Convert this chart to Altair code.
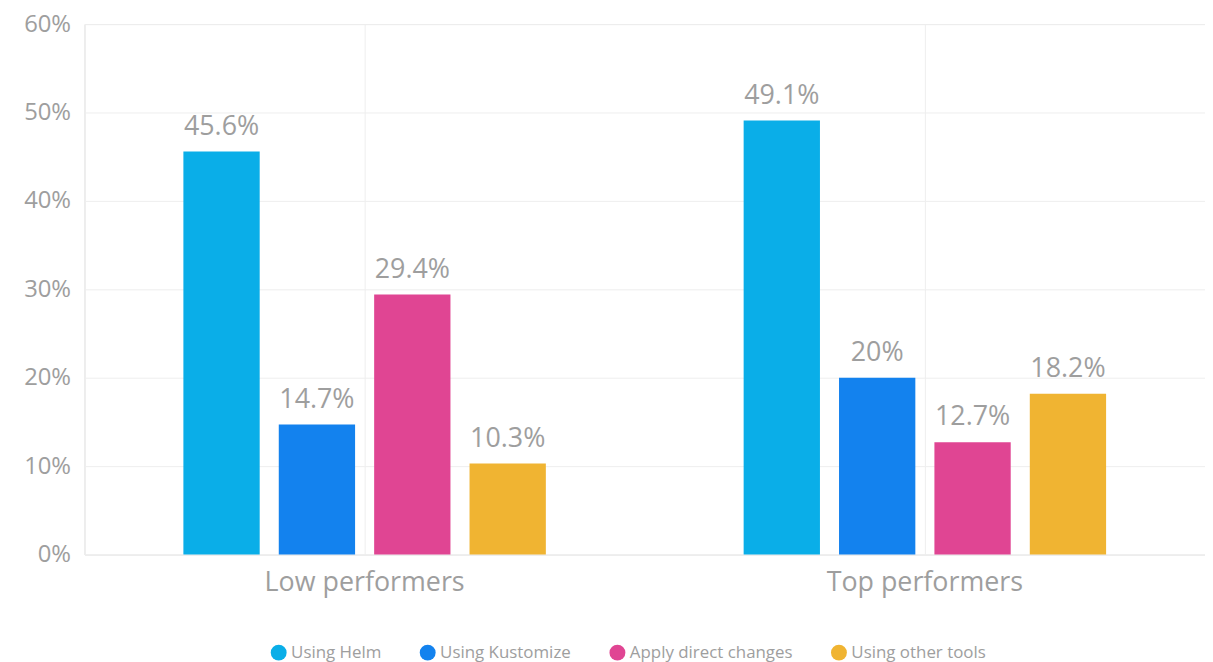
import altair as alt
import pandas as pd

groups = ["Low performers", "Top performers"]
series = ["Using Helm", "Using Kustomize", "Apply direct changes", "Using other tools"]
colors = ["#0AAEE8", "#1382EE", "#E04593", "#F0B432"]
low_values = [0.456, 0.147, 0.294, 0.103]
top_values = [0.491, 0.200, 0.127, 0.182]

rows = []
for s, v in zip(series, low_values):
    rows.append({"group": groups[0], "series": s, "value": v})
for s, v in zip(series, top_values):
    rows.append({"group": groups[1], "series": s, "value": v})
df = pd.DataFrame(rows)

FONT = "Open Sans"
GRAY = "#9e9e9e"

x = alt.X("group:N", sort=groups, title=None,
          scale=alt.Scale(paddingInner=0.319, paddingOuter=0.1595),
          axis=alt.Axis(labelAngle=0, labelFontSize=27, labelColor=GRAY, labelFont=FONT,
                        labelPadding=15, labelLimit=0, ticks=False, domain=True, domainColor="#eeeeee",
                        grid=True, gridColor="#eeeeee", bandPosition=0.5))
xo = alt.XOffset("series:N", sort=series,
                 scale=alt.Scale(paddingInner=0.2, paddingOuter=0.1))
y = alt.Y("value:Q", title=None,
          scale=alt.Scale(domain=[0, 0.6], nice=False),
          axis=alt.Axis(format=".0%", values=[0, 0.1, 0.2, 0.3, 0.4, 0.5, 0.6],
                        labelFontSize=24, labelColor=GRAY, labelFont=FONT, labelPadding=14,
                        ticks=False, domain=True, domainColor="#eeeeee",
                        grid=True, gridColor="#eeeeee"))
color = alt.Color("series:N", sort=series,
                  scale=alt.Scale(domain=series, range=colors),
                  legend=alt.Legend(title=None, orient="none", direction="horizontal",
                                    legendX=187, legendY=624,
                                    symbolType="circle", symbolSize=256, symbolStrokeWidth=0,
                                    labelFontSize=17, labelColor=GRAY, labelFont=FONT,
                                    labelLimit=0, columnPadding=38, symbolOpacity=1))

bars = alt.Chart(df).mark_bar().encode(x=x, xOffset=xo, y=y, color=color)
labels = alt.Chart(df).mark_text(baseline="bottom", dy=-11, fontSize=27, color=GRAY, font=FONT).encode(
    x=x, xOffset=xo, y=y, text=alt.Text("value:Q", format=".1~%"))

chart = alt.layer(bars, labels).properties(
    width=1128, height=534,
    autosize=alt.AutoSizeParams(type="none"),
    padding={"left": 77, "top": 14, "right": 0, "bottom": 106},
).configure_view(stroke=None).configure(background="white")

chart.save("out.html", embed_options={"renderer": "svg", "actions": False})
